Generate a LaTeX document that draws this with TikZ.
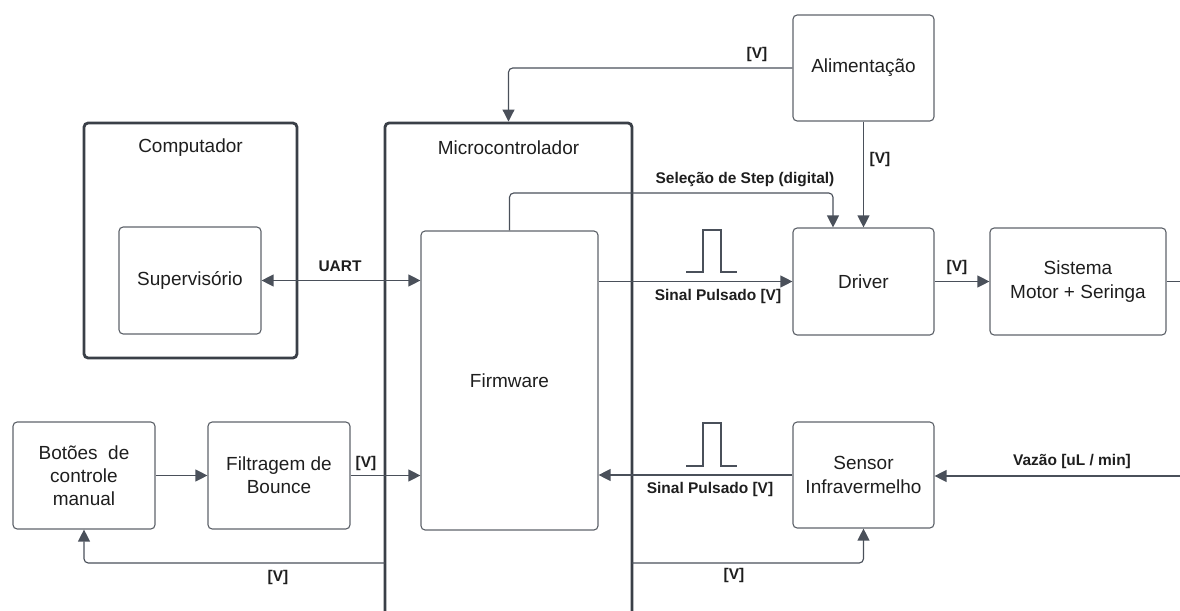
\documentclass[tikz,border=0pt]{standalone}
\usepackage{fontspec}
\setmainfont{Liberation Sans}
\usetikzlibrary{positioning, arrows.meta, calc}

\definecolor{linegray}{HTML}{4A505A}
\definecolor{boxgray}{HTML}{5F646B}
\definecolor{darkframe}{HTML}{3A3F47}
\definecolor{txt}{HTML}{1E1E1E}

\begin{document}
\begin{tikzpicture}[
    x=0.025cm, y=-0.025cm,
    blk/.style={draw=boxgray, line width=0.8pt, rounded corners=3pt, align=center,
        inner sep=0pt, text=txt, font=\fontsize{13.5}{16.5}\selectfont},
    frame/.style={draw=darkframe, line width=2pt, rounded corners=3pt, inner sep=0pt},
    title/.style={text=txt, font=\fontsize{13.5}{16.5}\selectfont},
    conn/.style={draw=linegray, line width=0.8pt, rounded corners=3pt,
        -{Triangle[length=8.5pt, width=8.5pt]}},
    lbl/.style={text=txt, font=\fontsize{11}{13}\selectfont\bfseries},
    pulse/.style={draw=linegray, line width=1.1pt}
]
    \useasboundingbox (0,0) rectangle (1180,611);
    \clip (0,0) rectangle (1180,611);

    % Outer frames
    \node[frame, minimum width=5.325cm, minimum height=5.875cm] (comp) at (190.5,240.5) {};
    \node[title] (comptitle) at (190.5,148) {Computador};
    \node[frame, minimum width=6.175cm, minimum height=13.425cm] (micro) at (508.5,391.5) {};
    \node[title] (microtitle) at (508.5,148) {Microcontrolador};

    % Blocks
    \node[blk, minimum width=3.55cm, minimum height=2.675cm] (sup) at (190,280.5) {Supervisório};
    \node[blk, minimum width=4.425cm, minimum height=7.475cm] (firm) at (509.5,380.5) {Firmware};
    \node[blk, minimum width=3.525cm, minimum height=2.65cm] (alim) at (863.5,68) {Alimentação};
    \node[blk, minimum width=3.525cm, minimum height=2.675cm] (driver) at (863.5,281.5) {Driver};
    \node[blk, minimum width=4.4cm, minimum height=2.675cm] (motor) at (1078,281.5) {Sistema\\Motor + Seringa};
    \node[blk, minimum width=3.525cm, minimum height=2.65cm] (sensor) at (863.5,475) {Sensor\\Infravermelho};
    \node[blk, minimum width=3.55cm, minimum height=2.675cm] (botoes) at (84,475.5) {Botões\ \ de\\controle\\manual};
    \node[blk, minimum width=3.55cm, minimum height=2.675cm] (filtro) at (279,475.5) {Filtragem de\\Bounce};

    % Free ends
    \coordinate (sel) at (833,193);
    \coordinate (motorout) at (1190,281.5);
    \coordinate (vazao) at (1190,476);
    \coordinate (vbot) at (385,563);
    \coordinate (vsen) at (632,563);

    % Supply
    \draw[conn] (alim.west) -| (micro.north);
    \draw[conn] (alim.south) -- (driver.north);
    \node[lbl] (valim) at (757,55) {[V]};
    \node[lbl] (vdrv) at (880,160) {[V]};

    % Step selection
    \draw[conn] (firm.north) |- (sel) -- (sel |- driver.north);
    \node[lbl] (sellbl) at (745,180) {Seleção de Step (digital)};

    % UART link
    \draw[conn, {Triangle[length=8.5pt, width=8.5pt]}-{Triangle[length=8.5pt, width=8.5pt]}]
        (sup.east) -- (sup.east -| firm.west);
    \node[lbl] (uart) at (340,266) {UART};

    % Pulse output to driver
    \draw[conn] (firm.east |- driver.west) -- (driver.west);
    \draw[pulse] (686,272) -- (703,272) -- (703,230) -- (721,230) -- (721,272) -- (737,272);
    \node[lbl] (pulsout) at (718,297) {Sinal Pulsado [V]};

    \draw[conn] (driver.east) -- (motor.west);
    \node[lbl] (vmot) at (957,268) {[V]};
    \draw[draw=linegray, line width=0.8pt] (motor.east) -- (motorout);

    % Sensor feedback
    \draw[conn] (vazao) -- (sensor.east |- vazao);
    \node[lbl] (vazlbl) at (1072,461) {Vazão [uL / min]};
    \draw[conn] (sensor.west) -- (sensor.west -| firm.east);
    \draw[pulse] (686,466) -- (703,466) -- (703,423) -- (721,423) -- (721,466) -- (737,466);
    \node[lbl] (pulsin) at (710,489) {Sinal Pulsado [V]};

    % Manual buttons
    \draw[conn] (botoes.east) -- (filtro.west);
    \draw[conn] (filtro.east) -- (filtro.east -| firm.west);
    \node[lbl] (vfil) at (366,463) {[V]};

    % Supply from microcontroller
    \draw[conn] (vbot) -| (botoes.south);
    \node[lbl] (vbotlbl) at (278,577) {[V]};
    \draw[conn] (vsen) -| (sensor.south);
    \node[lbl] (vsenlbl) at (734,575) {[V]};
\end{tikzpicture}
\end{document}
